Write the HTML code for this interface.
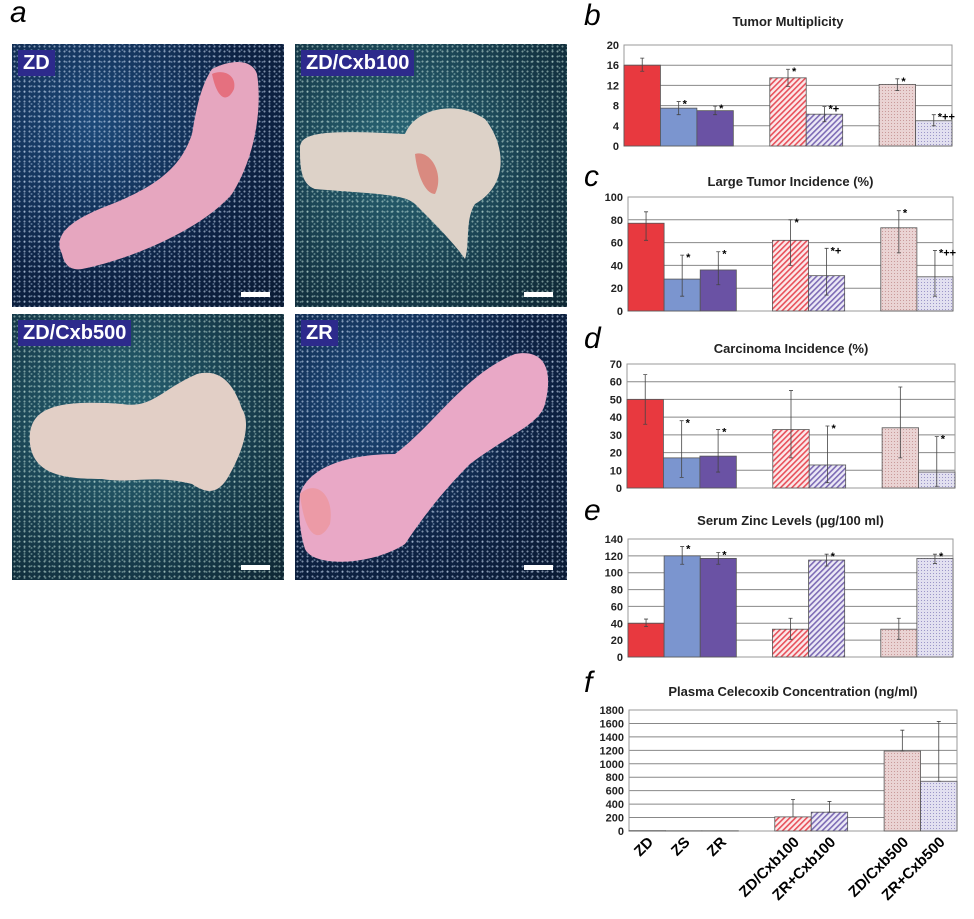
<!DOCTYPE html>
<html><head><meta charset="utf-8">
<style>
body{margin:0;background:#fff;width:974px;height:919px;overflow:hidden;position:relative;font-family:"Liberation Sans",sans-serif}
.photo{position:absolute;overflow:hidden;background:radial-gradient(circle,rgba(220,235,255,0.55) 0.8px,transparent 1.2px) 0 0/5px 5px,radial-gradient(circle,rgba(200,225,255,0.35) 0.8px,transparent 1.2px) 2px 3px/7px 6px,radial-gradient(circle at 30% 30%,#1d4a7a,#0d2244 60%,#0a1a33)}
.photo.teal{background:radial-gradient(circle,rgba(220,245,235,0.5) 0.8px,transparent 1.2px) 0 0/5px 5px,radial-gradient(circle,rgba(200,240,230,0.35) 0.8px,transparent 1.2px) 2px 3px/7px 6px,radial-gradient(circle at 40% 40%,#2a6878,#173c4c 60%,#0e2633)}
.tag{position:absolute;left:6px;top:6px;background:#2d2a8c;color:#fff;font-weight:bold;font-size:20px;padding:2px 5px;line-height:22px}
.scale{position:absolute;width:29px;height:5px;background:#fff;right:14px;bottom:10px}
.letter{position:absolute;font-style:italic;font-size:30px;font-family:"Liberation Sans",sans-serif}
</style></head><body>
<div class="letter" style="left:10px;top:-4px">a</div>
<div class="photo" style="left:12px;top:44px;width:272px;height:263px">
<svg width="272" height="263"><path d="M50 210 C40 190 60 175 100 160 C150 140 170 120 180 90 C185 60 190 40 200 25 C220 15 240 15 245 30 C250 60 245 110 220 150 C190 185 120 215 70 225 C58 227 52 220 50 210Z" fill="#e6a6bf"/><path d="M200 30 C210 25 225 30 222 45 C215 60 205 55 200 30Z" fill="#e5707f"/></svg>
<div class="tag">ZD</div><div class="scale"></div></div>
<div class="photo teal" style="left:295px;top:44px;width:272px;height:263px">
<svg width="272" height="263"><path d="M5 105 C5 90 20 85 110 90 C120 65 160 55 190 75 C210 100 215 140 180 160 C170 175 175 200 170 215 C160 200 140 180 120 160 C110 150 80 150 20 145 C5 140 5 120 5 105Z" fill="#ddd2c8"/><path d="M120 110 C135 105 150 130 140 150 C130 150 122 130 120 110Z" fill="#d98a80"/></svg>
<div class="tag">ZD/Cxb100</div><div class="scale"></div></div>
<div class="photo teal" style="left:12px;top:314px;width:272px;height:266px">
<svg width="272" height="266"><path d="M18 130 C15 95 40 85 110 90 C140 95 150 75 185 60 C205 55 220 65 230 95 C240 110 230 140 215 165 C205 180 195 180 180 170 C140 160 120 170 90 165 C50 165 22 160 18 130Z" fill="#e2cfc6"/></svg>
<div class="tag">ZD/Cxb500</div><div class="scale"></div></div>
<div class="photo" style="left:295px;top:314px;width:272px;height:266px">
<svg width="272" height="266"><path d="M5 180 C15 150 60 140 100 140 C140 110 170 60 220 40 C245 35 260 50 250 90 C245 110 215 120 175 150 C150 175 130 200 110 230 C80 250 20 255 10 235 C5 220 3 200 5 180Z" fill="#e9a8c6"/><path d="M5 180 C20 165 40 180 35 210 C25 230 10 225 5 180Z" fill="#ec9aa6"/></svg>
<div class="tag">ZR</div><div class="scale"></div></div>

<svg id="charts" width="974" height="919" style="position:absolute;left:0;top:0">
<defs>
<pattern id="hr" width="4" height="4" patternUnits="userSpaceOnUse" patternTransform="rotate(45)"><rect width="4" height="4" fill="#fbe9ea"/><rect width="1.6" height="4" fill="#e8505a"/></pattern>
<pattern id="hp" width="4" height="4" patternUnits="userSpaceOnUse" patternTransform="rotate(45)"><rect width="4" height="4" fill="#ece9f6"/><rect width="1.6" height="4" fill="#7d6bb5"/></pattern>
<pattern id="dr" width="3" height="3" patternUnits="userSpaceOnUse"><rect width="3" height="3" fill="#ead3d3"/><rect width="1" height="1" fill="#c99a9a"/></pattern>
<pattern id="dp" width="3" height="3" patternUnits="userSpaceOnUse"><rect width="3" height="3" fill="#e2e0f0"/><rect width="1" height="1" fill="#9c96c8"/></pattern>
</defs>
</svg>
<script>
// data
const categories = ["ZD","ZS","ZR","ZD/Cxb100","ZR+Cxb100","ZD/Cxb500","ZR+Cxb500"];
const slots = [0,1,2,4,5,7,8];
const tumorMult = [16,7.5,7,13.5,6.3,12.2,5];
const tumorMultLo = [14.8,6.2,6.2,11.8,4.8,11,4];
const tumorMultHi = [17.4,8.8,7.9,15.2,7.8,13.3,6.2];
const tumorMultStars = ["","*","*","*","*+","*","*++"];
const largeInc = [77,28,36,62,31,73,30];
const largeIncLo = [62,13,23,40,14,51,13];
const largeIncHi = [87,49,52,80,55,88,53];
const largeIncStars = ["","*","*","*","*+","*","*++"];
const carcInc = [50,17,18,33,13,34,9];
const carcIncLo = [36,6,9,17,3,17,1];
const carcIncHi = [64,38,33,55,35,57,29];
const carcIncStars = ["","*","*","","*","","*"];
const zinc = [40,120,117,33,115,33,117];
const zincLo = [36,110,110,21,108,21,111];
const zincHi = [45,131,124,46,122,46,122];
const zincStars = ["","*","*","","*","","*"];
const celecoxib = [5,3,3,210,280,1190,740];
const celecoxibLo = [5,3,3,210,280,1190,740];
const celecoxibHi = [5,3,3,470,440,1500,1630];
const celecoxibStars = ["","","","","","",""];
const ticksB = [0,4,8,12,16,20];
const ticksC = [0,20,40,60,80,100];
const ticksD = [0,10,20,30,40,50,60,70];
const ticksE = [0,20,40,60,80,100,120,140];
const ticksF = [0,200,400,600,800,1000,1200,1400,1600,1800];
const titles = ["Tumor Multiplicity","Large Tumor Incidence (%)","Carcinoma Incidence (%)","Serum Zinc Levels (\u00b5g/100 ml)","Plasma Celecoxib Concentration (ng/ml)"];
const fills = ["#e8393f","#7b95cf","#6a52a4","url(#hr)","url(#hp)","url(#dr)","url(#dp)"];

const svg = document.getElementById('charts');
const NS = 'http://www.w3.org/2000/svg';
function mk(tag, attrs){const e=document.createElementNS(NS,tag);for(const k in attrs)e.setAttribute(k,attrs[k]);svg.appendChild(e);return e;}

const panels = [
 {L:'b',ly:25,ty:26,x0:624,x1:952,top:45,bot:146,ticks:ticksB,vals:tumorMult,lo:tumorMultLo,hi:tumorMultHi,stars:tumorMultStars,nm:'tumor-multiplicity'},
 {L:'c',ly:186,ty:186,x0:628,x1:953,top:197,bot:311,ticks:ticksC,vals:largeInc,lo:largeIncLo,hi:largeIncHi,stars:largeIncStars,nm:'large-tumor-incidence'},
 {L:'d',ly:348,ty:353,x0:627,x1:955,top:364,bot:488,ticks:ticksD,vals:carcInc,lo:carcIncLo,hi:carcIncHi,stars:carcIncStars,nm:'carcinoma-incidence'},
 {L:'e',ly:520,ty:525,x0:628,x1:953,top:539,bot:657,ticks:ticksE,vals:zinc,lo:zincLo,hi:zincHi,stars:zincStars,nm:'serum-zinc'},
 {L:'f',ly:692,ty:696,x0:629,x1:957,top:710,bot:831,ticks:ticksF,vals:celecoxib,lo:celecoxibLo,hi:celecoxibHi,stars:celecoxibStars,nm:'plasma-celecoxib'}
];
panels.forEach((p,pi)=>{
 const max=p.ticks[p.ticks.length-1];
 const y=v=>p.bot-(v/max)*(p.bot-p.top);
 const sw=(p.x1-p.x0)/9;
 const x=s=>p.x0+s*sw;
 let t=mk('text',{x:584,y:p.ly,'font-size':30,'font-style':'italic'});t.textContent=p.L;
 
 
 t=mk('text',{x:(p.x0+p.x1)/2,y:p.ty,'font-size':13,'font-weight':'bold','text-anchor':'middle',fill:'#222'});t.textContent=titles[pi];
 
 
 p.ticks.forEach(v=>{
  const g=mk('line',{x1:p.x0,x2:p.x1,y1:y(v),y2:y(v),stroke:'#888','stroke-width':1});
  
  
  const tl=mk('text',{x:p.x0-5,y:y(v)+4,'font-size':11,'font-weight':'bold','text-anchor':'end',fill:'#222'});tl.textContent=v;
  
  
 });
 const fr=mk('rect',{x:p.x0,y:p.top,width:p.x1-p.x0,height:p.bot-p.top,fill:'none',stroke:'#999'});
 
 
 p.vals.forEach((v,i)=>{
  const bx=x(slots[i]);
  const b=mk('rect',{x:bx,y:y(v),width:sw,height:p.bot-y(v),fill:fills[i],stroke:'#555','stroke-width':0.8});
  
  
  const cx=bx+sw/2;
  if(p.hi[i]>p.vals[i]||p.lo[i]<p.vals[i]){
   const e=mk('path',{d:`M${cx} ${y(p.lo[i])}V${y(p.hi[i])}M${cx-2} ${y(p.hi[i])}h4M${cx-2} ${y(p.lo[i])}h4`,stroke:'#444','stroke-width':0.8,fill:'none'});
   
   
  }
  if(p.stars[i]){
   const s=mk('text',{x:cx+4,y:y(p.hi[i])+6,'font-size':11,'font-weight':'bold'});s.textContent=p.stars[i];
   
   
  }
  if(p.L==='f'){
   const lx=cx+7,ly=p.bot+12;
   const xl=mk('text',{x:lx,y:ly,'font-size':15,'font-weight':'bold','text-anchor':'end',transform:`rotate(-45 ${lx} ${ly})`});xl.textContent=categories[i];
   
   
  }
 });
});
</script>
</body></html>
